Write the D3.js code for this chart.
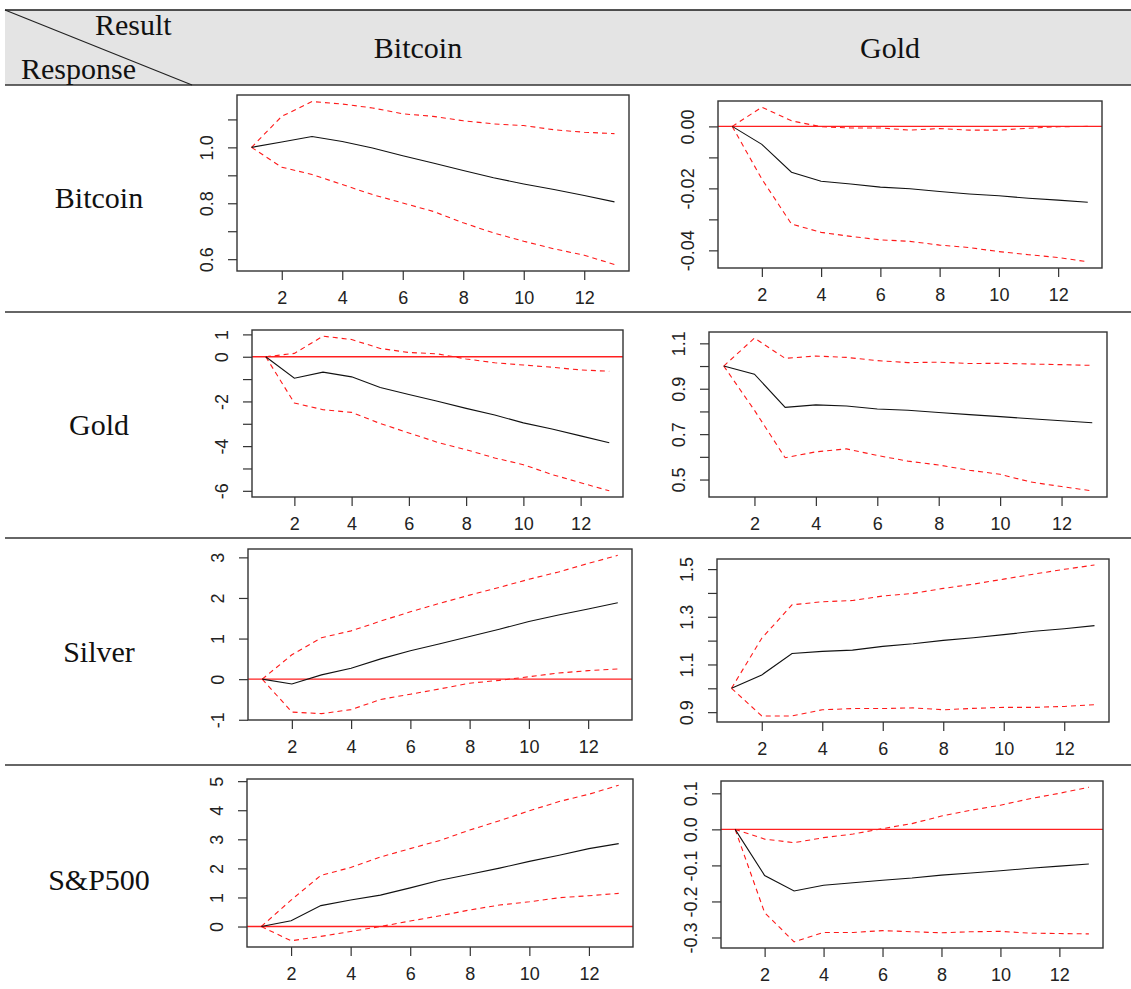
<!DOCTYPE html>
<html>
<head>
<meta charset="utf-8">
<script src="https://cdn.jsdelivr.net/npm/d3@7"></script>
<style>
  html, body { margin: 0; padding: 0; background: #fff; }
  svg { display: block; }
</style>
</head>
<body>
<svg id="chart"></svg>
<script>
// ── Impulse response grid (rows = response, columns = result) ────────────────
(function () {
    'use strict';

    const W = 1131, H = 989;

    const ROWS = ['Bitcoin', 'Gold', 'Silver', 'S&P500'];
    const COLS = ['Bitcoin', 'Gold'];
    const STEPS = [1, 2, 3, 4, 5, 6, 7, 8, 9, 10, 11, 12, 13];
    const X_TICKS = [2, 4, 6, 8, 10, 12];

    // Bitcoin row
    const btcBtcMid = [1.0, 1.019, 1.039, 1.021, 0.998, 0.970, 0.944, 0.917, 0.891, 0.869, 0.849, 0.828, 0.805];
    const btcBtcUp  = [1.0, 1.111, 1.164, 1.155, 1.141, 1.120, 1.111, 1.095, 1.084, 1.078, 1.063, 1.054, 1.049];
    const btcBtcLo  = [1.0, 0.929, 0.903, 0.867, 0.831, 0.801, 0.771, 0.730, 0.694, 0.664, 0.637, 0.614, 0.581];

    const btcGoldMid = [0, -0.0058, -0.0148, -0.0177, -0.0186, -0.0196, -0.0201, -0.0210, -0.0218, -0.0224, -0.0232, -0.0238, -0.0245];
    const btcGoldUp  = [0, 0.0062, 0.0018, -0.0001, -0.0005, -0.0005, -0.0012, -0.0007, -0.0012, -0.0012, -0.0006, -0.0001, 0.0000];
    const btcGoldLo  = [0, -0.0170, -0.0315, -0.0342, -0.0355, -0.0366, -0.0371, -0.0383, -0.0391, -0.0404, -0.0414, -0.0423, -0.0437];

    // Gold row
    const goldBtcMid = [0, -0.96, -0.69, -0.90, -1.38, -1.69, -1.99, -2.31, -2.61, -2.96, -3.23, -3.54, -3.85];
    const goldBtcUp  = [0, 0.15, 0.92, 0.77, 0.37, 0.19, 0.13, -0.10, -0.27, -0.37, -0.47, -0.59, -0.65];
    const goldBtcLo  = [0, -2.07, -2.37, -2.49, -2.99, -3.41, -3.83, -4.16, -4.53, -4.83, -5.27, -5.64, -6.0];

    const goldGoldMid = [1.0, 0.964, 0.818, 0.829, 0.824, 0.811, 0.805, 0.795, 0.786, 0.777, 0.768, 0.759, 0.750];
    const goldGoldUp  = [1.0, 1.123, 1.034, 1.044, 1.038, 1.024, 1.015, 1.017, 1.011, 1.012, 1.009, 1.006, 1.003];
    const goldGoldLo  = [1.0, 0.805, 0.596, 0.622, 0.635, 0.606, 0.581, 0.564, 0.541, 0.523, 0.489, 0.469, 0.450];

    // Silver row
    const silvBtcMid = [0, -0.12, 0.105, 0.27, 0.50, 0.70, 0.87, 1.05, 1.23, 1.42, 1.58, 1.73, 1.88];
    const silvBtcUp  = [0, 0.60, 1.02, 1.19, 1.43, 1.66, 1.87, 2.07, 2.26, 2.46, 2.64, 2.85, 3.05];
    const silvBtcLo  = [0, -0.81, -0.85, -0.75, -0.50, -0.37, -0.24, -0.10, -0.03, 0.06, 0.15, 0.21, 0.25];

    const silvGoldMid = [1.0, 1.056, 1.146, 1.155, 1.160, 1.176, 1.187, 1.201, 1.212, 1.225, 1.239, 1.250, 1.263];
    const silvGoldUp  = [1.0, 1.21, 1.35, 1.363, 1.368, 1.387, 1.398, 1.419, 1.437, 1.458, 1.479, 1.499, 1.517];
    const silvGoldLo  = [1.0, 0.884, 0.884, 0.910, 0.915, 0.915, 0.918, 0.910, 0.916, 0.920, 0.920, 0.924, 0.931];

    // S&P500 row
    const spBtcMid = [0, 0.20, 0.72, 0.91, 1.08, 1.33, 1.59, 1.80, 2.01, 2.24, 2.45, 2.68, 2.85];
    const spBtcUp  = [0, 0.91, 1.76, 2.03, 2.39, 2.68, 2.96, 3.32, 3.64, 3.98, 4.30, 4.55, 4.86];
    const spBtcLo  = [0, -0.49, -0.34, -0.17, 0.0, 0.19, 0.37, 0.57, 0.74, 0.85, 0.99, 1.06, 1.14];

    const spGoldMid = [0, -0.128, -0.171, -0.155, -0.148, -0.141, -0.135, -0.127, -0.121, -0.115, -0.108, -0.102, -0.096];
    const spGoldUp  = [0, -0.027, -0.037, -0.023, -0.013, 0.002, 0.016, 0.037, 0.053, 0.067, 0.085, 0.100, 0.117];
    const spGoldLo  = [0, -0.231, -0.312, -0.286, -0.286, -0.281, -0.284, -0.287, -0.284, -0.283, -0.288, -0.289, -0.290];

    // y ticks and which of them carry a label (R drops overlapping ones)
    const btcBtcTicks   = [0.6, 0.7, 0.8, 0.9, 1.0, 1.1];
    const btcBtcLabels  = [0.6, 0.8, 1.0];
    const btcGoldTicks  = [-0.04, -0.03, -0.02, -0.01, 0.0];
    const btcGoldLabels = [-0.04, -0.02, 0.0];
    const goldBtcTicks  = [-6, -5, -4, -3, -2, -1, 0, 1];
    const goldBtcLabels = [-6, -4, -2, 0, 1];
    const goldGoldTicks  = [0.5, 0.6, 0.7, 0.8, 0.9, 1.0, 1.1];
    const goldGoldLabels = [0.5, 0.7, 0.9, 1.1];
    const silvBtcTicks  = [-1, 0, 1, 2, 3];
    const silvBtcLabels = [-1, 0, 1, 2, 3];
    const silvGoldTicks  = [0.9, 1.0, 1.1, 1.2, 1.3, 1.4, 1.5];
    const silvGoldLabels = [0.9, 1.1, 1.3, 1.5];
    const spBtcTicks  = [0, 1, 2, 3, 4, 5];
    const spBtcLabels = [0, 1, 2, 3, 4, 5];
    const spGoldTicks  = [-0.3, -0.2, -0.1, 0.0, 0.1];
    const spGoldLabels = [-0.3, -0.2, -0.1, 0.0, 0.1];

    // plot boxes (left, top, right, bottom) for each cell
    const panels = [
        { row: 0, col: 0, box: [237, 95, 629, 271],   mid: btcBtcMid,  up: btcBtcUp,  lo: btcBtcLo,  ticks: btcBtcTicks,  labels: btcBtcLabels,  fmt: '.1f' },
        { row: 0, col: 1, box: [718, 101, 1102, 268], mid: btcGoldMid, up: btcGoldUp, lo: btcGoldLo, ticks: btcGoldTicks, labels: btcGoldLabels, fmt: '.2f' },
        { row: 1, col: 0, box: [252, 330, 623, 497],  mid: goldBtcMid, up: goldBtcUp, lo: goldBtcLo, ticks: goldBtcTicks, labels: goldBtcLabels, fmt: 'd' },
        { row: 1, col: 1, box: [709, 332, 1107, 497], mid: goldGoldMid, up: goldGoldUp, lo: goldGoldLo, ticks: goldGoldTicks, labels: goldGoldLabels, fmt: '.1f' },
        { row: 2, col: 0, box: [248, 549, 632, 720],  mid: silvBtcMid, up: silvBtcUp, lo: silvBtcLo, ticks: silvBtcTicks, labels: silvBtcLabels, fmt: 'd' },
        { row: 2, col: 1, box: [717, 559, 1109, 722], mid: silvGoldMid, up: silvGoldUp, lo: silvGoldLo, ticks: silvGoldTicks, labels: silvGoldLabels, fmt: '.1f' },
        { row: 3, col: 0, box: [247, 779, 633, 947],  mid: spBtcMid,  up: spBtcUp,  lo: spBtcLo,  ticks: spBtcTicks,  labels: spBtcLabels,  fmt: 'd' },
        { row: 3, col: 1, box: [721, 781, 1103, 948], mid: spGoldMid, up: spGoldUp, lo: spGoldLo, ticks: spGoldTicks, labels: spGoldLabels, fmt: '.1f' }
    ];

    const TABLE_L = 5, TABLE_TOP = 10, HEAD_BOT = 85;
    const ROW_LINES = [312, 538, 765];
    const ROW_LABEL_Y = [208, 435, 662, 890];
    const COL_X = [418, 890];
    const SERIF = '"Liberation Serif", "DejaVu Serif", serif';
    const SANS = '"Liberation Sans", Arial, sans-serif';

    const loc = d3.formatLocale({ decimal: '.', thousands: ',', grouping: [3], currency: ['', ''], minus: '-' });

    const svg = d3.select('#chart').attr('width', W).attr('height', H)
        .attr('viewBox', `0 0 ${W} ${H}`);

    svg.append('rect').attr('width', W).attr('height', H).attr('fill', '#fff');

    // ── table header ──
    svg.append('rect')
        .attr('x', TABLE_L).attr('y', TABLE_TOP)
        .attr('width', W - TABLE_L).attr('height', HEAD_BOT - TABLE_TOP)
        .attr('fill', '#e4e4e4');

    svg.append('line')
        .attr('x1', TABLE_L).attr('x2', W).attr('y1', TABLE_TOP).attr('y2', TABLE_TOP)
        .attr('stroke', '#1a1a1a').attr('stroke-width', 1.6);
    svg.append('line')
        .attr('x1', TABLE_L).attr('x2', W).attr('y1', HEAD_BOT).attr('y2', HEAD_BOT)
        .attr('stroke', '#333').attr('stroke-width', 1.4);
    svg.append('line')
        .attr('x1', TABLE_L).attr('y1', TABLE_TOP).attr('x2', 192).attr('y2', HEAD_BOT)
        .attr('stroke', '#222').attr('stroke-width', 1.2);

    svg.append('text').text('Result')
        .attr('x', 95).attr('y', 35)
        .attr('font-family', SERIF).attr('font-size', 30).attr('fill', '#111');
    svg.append('text').text('Response')
        .attr('x', 21).attr('y', 79)
        .attr('font-family', SERIF).attr('font-size', 30).attr('fill', '#111');

    svg.selectAll('text.col-head')
        .data(COLS)
        .enter()
        .append('text')
        .attr('class', 'col-head')
        .attr('x', function (d, i) { return COL_X[i]; })
        .attr('y', 58)
        .attr('text-anchor', 'middle')
        .attr('font-family', SERIF).attr('font-size', 30).attr('fill', '#111')
        .text(function (d) { return d; });

    svg.selectAll('line.row-sep')
        .data(ROW_LINES)
        .enter()
        .append('line')
        .attr('class', 'row-sep')
        .attr('x1', TABLE_L).attr('x2', W)
        .attr('y1', function (d) { return d; }).attr('y2', function (d) { return d; })
        .attr('stroke', '#333').attr('stroke-width', 1.5);

    svg.selectAll('text.row-head')
        .data(ROWS)
        .enter()
        .append('text')
        .attr('class', 'row-head')
        .attr('x', 99)
        .attr('y', function (d, i) { return ROW_LABEL_Y[i]; })
        .attr('text-anchor', 'middle')
        .attr('font-family', SERIF).attr('font-size', 30).attr('fill', '#111')
        .text(function (d) { return d; });

    // ── panels ──
    panels.forEach(function (p) {
        const [L, T, R, B] = p.box;
        const g = svg.append('g');

        // R-style 4% padding on both axes
        const xPad = (d3.max(STEPS) - d3.min(STEPS)) * 0.04;
        const x = d3.scaleLinear()
            .domain([d3.min(STEPS) - xPad, d3.max(STEPS) + xPad])
            .range([L, R]);

        const all = p.mid.concat(p.up, p.lo);
        const lo = d3.min(all), hi = d3.max(all);
        const yPad = (hi - lo) * 0.04;
        const y = d3.scaleLinear().domain([lo - yPad, hi + yPad]).range([B, T]);

        const fmt = loc.format(p.fmt);

        // x axis
        const xAxis = g.append('g')
            .attr('transform', `translate(0,${B})`)
            .call(d3.axisBottom(x).tickValues(X_TICKS).tickSize(9).tickPadding(11).tickSizeOuter(0));
        xAxis.select('.domain').remove();
        xAxis.selectAll('line').attr('stroke', '#333').attr('stroke-width', 1.2);
        xAxis.selectAll('text')
            .attr('font-family', SANS).attr('font-size', 18).attr('fill', '#222');

        // y axis (labels parallel to the axis)
        const yAxis = g.append('g')
            .attr('transform', `translate(${L},0)`)
            .call(d3.axisLeft(y).tickValues(p.ticks).tickSize(9).tickSizeOuter(0)
                .tickFormat(function (v) {
                    return p.labels.some(function (l) { return Math.abs(l - v) < 1e-9; }) ? fmt(v) : '';
                }));
        yAxis.select('.domain').remove();
        yAxis.selectAll('line').attr('stroke', '#333').attr('stroke-width', 1.2);
        yAxis.selectAll('text')
            .attr('x', null).attr('dy', null)
            .attr('text-anchor', 'middle')
            .attr('transform', 'translate(-24,0) rotate(-90)')
            .attr('font-family', SANS).attr('font-size', 18).attr('fill', '#222');

        // zero reference line
        if (y.domain()[0] < 0 && y.domain()[1] > 0) {
            g.append('line')
                .attr('x1', L).attr('x2', R)
                .attr('y1', y(0)).attr('y2', y(0))
                .attr('stroke', '#ff2020').attr('stroke-width', 1.4);
        }

        const line = d3.line()
            .x(function (d, i) { return x(STEPS[i]); })
            .y(function (d) { return y(d); });

        g.append('path').datum(p.up)
            .attr('d', line).attr('fill', 'none')
            .attr('stroke', '#ff1a1a').attr('stroke-width', 1.1)
            .attr('stroke-dasharray', '5,4');
        g.append('path').datum(p.lo)
            .attr('d', line).attr('fill', 'none')
            .attr('stroke', '#ff1a1a').attr('stroke-width', 1.1)
            .attr('stroke-dasharray', '5,4');
        g.append('path').datum(p.mid)
            .attr('d', line).attr('fill', 'none')
            .attr('stroke', '#111').attr('stroke-width', 1.1);

        // plot frame
        g.append('rect')
            .attr('x', L).attr('y', T)
            .attr('width', R - L).attr('height', B - T)
            .attr('fill', 'none').attr('stroke', '#333').attr('stroke-width', 1.4);
    });
})();
</script>
</body>
</html>
